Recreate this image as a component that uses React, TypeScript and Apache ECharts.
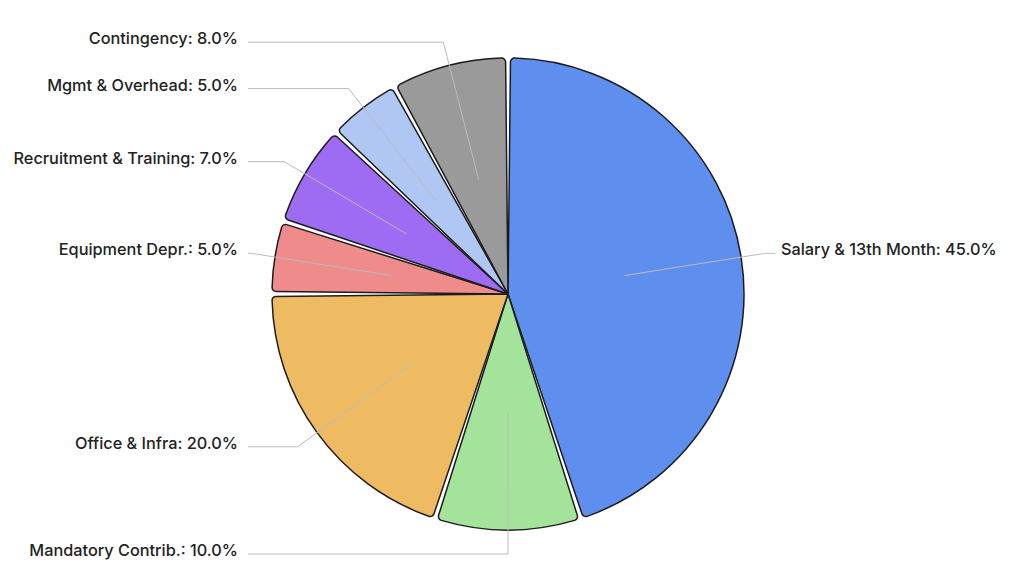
import React, { useEffect, useRef } from "react";
import * as echarts from "echarts";

const categories = [
  "Salary & 13th Month",
  "Mandatory Contrib.",
  "Office & Infra",
  "Equipment Depr.",
  "Recruitment & Training",
  "Mgmt & Overhead",
  "Contingency",
];
const values = [45, 10, 20, 5, 7, 5, 8];
const colors = ["#5F8FEE", "#A4E39A", "#EFBB62", "#F08B8C", "#9D6CF3", "#B0C7F4", "#9A9A9A"];

const CX = 508;
const CY = 294;

export default function App() {
  const ref = useRef<HTMLDivElement>(null);
  useEffect(() => {
    if (!ref.current) return;
    const chart = echarts.init(ref.current, null, { renderer: "svg" });
    const data = categories.map((name, i) => ({ name, value: values[i] }));
    chart.setOption({
      animation: false,
      backgroundColor: "#ffffff",
      series: [
        {
          type: "pie",
          center: [CX, CY],
          radius: [0, 236],
          startAngle: 89.99,
          clockwise: true,
          padAngle: 1.2,
          silent: true,
          z: 2,
          itemStyle: {
            borderColor: "#1c1c1c",
            borderWidth: 1.5,
            borderRadius: 4,
          },
          label: { show: false },
          labelLine: { show: false },
          data: data.map((d, i) => ({ ...d, itemStyle: { color: colors[i] } })),
        },
        {
          type: "pie",
          center: [CX, CY],
          radius: [0, 118],
          startAngle: 89.99,
          clockwise: true,
          silent: true,
          z: 5,
          itemStyle: { color: "rgba(0,0,0,0)", borderWidth: 0 },
          label: {
            show: true,
            position: "outside",
            color: "#222222",
            fontFamily: "Inter, Roboto, sans-serif",
            fontSize: 16.3,
            fontWeight: 500,
            formatter: (p: any) => `${p.name}: ${Number(p.value).toFixed(1)}%`,
          },
          labelLine: {
            show: true,
            length: 142,
            length2: 4,
            lineStyle: { color: "#BBBBBB", width: 1 },
          },
          labelLayout: (p: any) => {
            const pts = p.labelLinePoints;
            if (!pts || pts.length < 3) return {};
            const left = pts[2][0] < CX;
            const y = pts[2][1];
            const endX = left ? 248 : 775;
            return {
              x: left ? 238 : 781,
              y: y - 4,
              align: left ? "right" : "left",
              verticalAlign: "middle",
              labelLinePoints: [pts[0], pts[1], [endX, y]],
            };
          },
          data,
        },
      ],
    });
    return () => chart.dispose();
  }, []);
  return (
    <div
      ref={ref}
      style={{ position: "fixed", left: 0, top: 0, width: 1024, height: 576 }}
    />
  );
}
